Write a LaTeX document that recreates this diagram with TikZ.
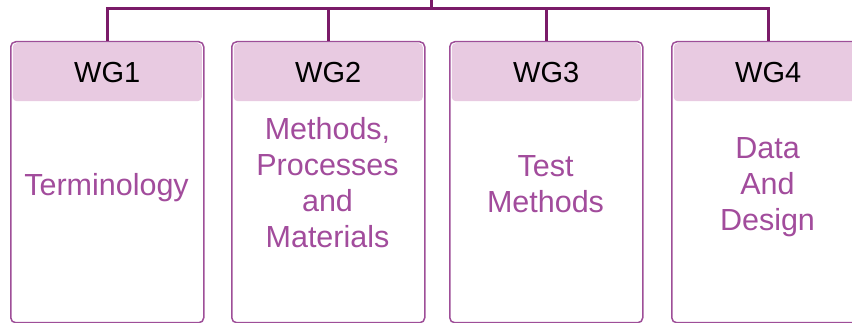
\documentclass[tikz,border=0pt]{standalone}
\usepackage{fontspec}
\setmainfont{Liberation Sans}
\definecolor{busc}{HTML}{7A1B68}
\definecolor{boxc}{HTML}{9E4E98}
\definecolor{headc}{HTML}{E8CAE1}
\definecolor{bodyc}{HTML}{A24C9C}
\tikzset{
  wgbox/.style={draw=boxc, line width=1.5pt, rounded corners=5pt, fill=white,
    minimum width=193pt, minimum height=281pt, inner sep=0pt, anchor=north west},
  headbox/.style={fill=headc, rounded corners=4pt, minimum width=189pt, minimum height=58pt,
    inner sep=0pt, anchor=north, text=black, font=\fontsize{29}{36}\selectfont},
  bodytext/.style={text=bodyc, align=center, anchor=base, inner sep=0pt,
    font=\fontsize{30.5}{36}\selectfont},
  busline/.style={draw=busc, line width=3pt}
}
\begin{document}
\begin{tikzpicture}[x=1pt,y=-1pt]
\clip (0,0) rectangle (852,323);
\node[wgbox] (b1) at (10,41) {};
\node[wgbox] (b2) at (231,41) {};
\node[wgbox] (b3) at (449,41) {};
\node[wgbox] (b4) at (671,41) {};
\node[headbox] (h1) at ([yshift=-2pt]b1.north) {WG1};
\node[headbox] (h2) at ([yshift=-2pt]b2.north) {WG2};
\node[headbox] (h3) at ([yshift=-2pt]b3.north) {WG3};
\node[headbox] (h4) at ([yshift=-2pt]b4.north) {WG4};
\node[bodytext] (t1) at (106.5,196) {Terminology};
\node[bodytext] (t2) at (327.5,248) {Methods,\\Processes\\and\\Materials};
\node[bodytext] (t3) at (545.5,213) {Test\\Methods};
\node[bodytext] (t4) at (767.5,231) {Data\\And\\Design};
\coordinate (root) at (431,-2);
\coordinate (bus) at (431,9);
\draw[busline] (root) -- (bus);
\draw[busline] (b1.north) |- (bus) -| (b4.north);
\draw[busline] (b2.north) -- (b2.north |- bus);
\draw[busline] (b3.north) -- (b3.north |- bus);
\end{tikzpicture}
\end{document}
